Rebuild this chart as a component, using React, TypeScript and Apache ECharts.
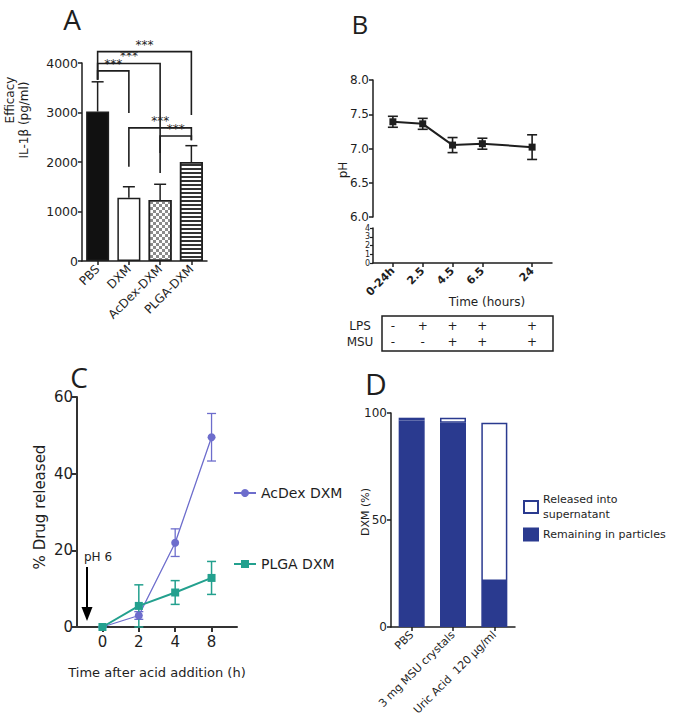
import React, { useEffect, useRef } from 'react';
import * as echarts from 'echarts';

const FONT = 'DejaVu Sans';
const INK = '#1e1e1e';

// ---------- Panel A ----------
const aCategories = ['PBS', 'DXM', 'AcDex-DXM', 'PLGA-DXM'];
const aValues = [3020, 1280, 1230, 2000];
const aErrors = [600, 220, 320, 330];
const bracketFrom = [0, 0, 0, 1, 2];
const bracketTo = [3, 2, 1, 3, 3];
const bracketLevel = [4230, 3990, 3840, 2690, 2525];
const bracketLegFrom = [3660, 3660, 3660, 1905, 1780];
const bracketLegTo = [2950, 2180, 2990, 2440, 2440];
const bracketLabel = ['***', '***', '***', '***', '***'];

// ---------- Panel B ----------
const bTimeLabels = ['0-24h', '2.5', '4.5', '6.5', '24'];
const bTimeSlots = [0, 3, 6, 9, 14];
const bPH = [7.39, 7.36, 7.05, 7.07, 7.02];
const bPHErr = [0.08, 0.08, 0.11, 0.08, 0.18];
const bLPS = ['-', '+', '+', '+', '+'];
const bMSU = ['-', '-', '+', '+', '+'];

// ---------- Panel C ----------
const cTimeLabels = ['0', '2', '4', '8'];
const cTimeSlots = [0, 1, 2, 3];
const cAcDex = [0, 3, 22, 49.5];
const cAcDexErr = [0, 1, 3.6, 6.2];
const cPLGA = [0, 5.5, 9, 12.8];
const cPLGAErr = [0, 5.5, 3.1, 4.3];

// ---------- Panel D ----------
const dCategories = ['PBS', '3 mg MSU crystals', 'Uric Acid  120 µg/ml'];
const dRemaining = [96.5, 95.5, 21.5];
const dReleased = [1.3, 2.3, 74];

const PURPLE = '#6d6dcc';
const TEAL = '#23a08e';
const NAVY = '#2a3a8f';

function errRender(color: string, cap: number, both: boolean, width: number) {
  return (params: any, api: any) => {
    const x = api.value(0);
    const lo = api.value(1);
    const hi = api.value(2);
    const pl = api.coord([x, lo]);
    const ph = api.coord([x, hi]);
    const st = { stroke: color, lineWidth: width };
    const ch: any[] = [
      { type: 'line', shape: { x1: pl[0], y1: pl[1], x2: ph[0], y2: ph[1] }, style: st },
      { type: 'line', shape: { x1: ph[0] - cap, y1: ph[1], x2: ph[0] + cap, y2: ph[1] }, style: st },
    ];
    if (both) ch.push({ type: 'line', shape: { x1: pl[0] - cap, y1: pl[1], x2: pl[0] + cap, y2: pl[1] }, style: st });
    return { type: 'group', children: ch };
  };
}

function axisBase(fs: number, extra: any = {}) {
  return {
    axisLine: { show: true, onZero: false, lineStyle: { color: INK, width: 1.5 } },
    axisTick: { show: true, length: 4, lineStyle: { color: INK, width: 1.5 } },
    splitLine: { show: false },
    axisLabel: { color: INK, fontFamily: FONT, fontSize: fs, margin: 5 },
    ...extra,
  };
}

function txt(text: string, x: number, y: number, fs: number, opts: any = {}) {
  return {
    type: 'text',
    x,
    y,
    rotation: opts.rot || 0,
    silent: true,
    z: 10,
    style: {
      text,
      fontSize: fs,
      fontFamily: opts.font || FONT,
      fontWeight: opts.weight || 'normal',
      fill: INK,
      align: opts.align || 'center',
      verticalAlign: opts.va || 'middle',
    },
  };
}

export default function App() {
  const ref = useRef<HTMLDivElement>(null);

  useEffect(() => {
    if (!ref.current) return;
    const chart = echarts.init(ref.current, null, { renderer: 'svg' });

    const aStyles: any[] = [
      { color: '#111', borderColor: INK, borderWidth: 1.5 },
      { color: '#fff', borderColor: INK, borderWidth: 1.5 },
      {
        color: '#fff', borderColor: INK, borderWidth: 1.5,
        decal: { symbol: 'rect', symbolSize: 1, dashArrayX: [[3, 3], [0, 3, 3, 0]], dashArrayY: [3, 0], color: '#8c8c8c' },
      },
      {
        color: '#fff', borderColor: INK, borderWidth: 1.5,
        decal: { symbol: 'rect', symbolSize: 1, dashArrayX: [1, 0], dashArrayY: [1.6, 1.6], color: '#333' },
      },
    ];

    const bLabelOf = (v: number) => {
      const i = bTimeSlots.indexOf(Math.round(v));
      return i >= 0 ? bTimeLabels[i] : '';
    };
    const cLabelOf = (v: number) => {
      const i = cTimeSlots.indexOf(Math.round(v));
      return i >= 0 ? cTimeLabels[i] : '';
    };
    const plain = (v: number) => String(v);

    const staticGraphics: any[] = [
      txt('A', 72, 19, 28, { font: 'Open Sans' }),
      txt('B', 360, 24, 26, { font: 'Open Sans' }),
      txt('C', 79, 377, 28, { font: 'Open Sans' }),
      txt('D', 376, 383, 30, { font: 'Open Sans' }),
      txt('Efficacy', 10, 100, 12, { rot: Math.PI / 2 }),
      txt('IL-1β (pg/ml)', 24, 120, 12, { rot: Math.PI / 2 }),
      txt('pH', 343, 170, 12, { rot: Math.PI / 2 }),
      txt('Time (hours)', 487, 302, 12),
      {
        type: 'rect', silent: true,
        shape: { x: 382, y: 316, width: 171, height: 35 },
        style: { fill: 'none', stroke: INK, lineWidth: 1.5 },
      },
      txt('LPS', 360, 326, 12),
      txt('MSU', 360, 342, 12),
      txt('% Drug released', 40, 507, 15, { rot: Math.PI / 2 }),
      txt('pH 6', 98, 557, 12),
      {
        type: 'line', silent: true,
        shape: { x1: 87, y1: 567, x2: 87, y2: 612 },
        style: { stroke: '#000', lineWidth: 2 },
      },
      {
        type: 'polygon', silent: true,
        shape: { points: [[81.5, 607], [92.5, 607], [87, 621]] },
        style: { fill: '#000' },
      },
      txt('Time after acid addition (h)', 157, 672, 13),
      txt('DXM (%)', 365, 512, 11, { rot: Math.PI / 2 }),
    ];

    const option: any = {
      animation: false,
      backgroundColor: '#ffffff',
      textStyle: { fontFamily: FONT },
      grid: [
        { left: 82, top: 63, width: 125, height: 198, outerBoundsMode: 'none', containLabel: false },
        { left: 373, top: 80, width: 179, height: 137, outerBoundsMode: 'none', containLabel: false },
        { left: 373, top: 228, width: 179, height: 35, outerBoundsMode: 'none', containLabel: false },
        { left: 77, top: 397, width: 160, height: 230, outerBoundsMode: 'none', containLabel: false },
        { left: 391, top: 413, width: 124, height: 214, outerBoundsMode: 'none', containLabel: false },
      ],
      xAxis: [
        {
          gridIndex: 0, type: 'category', data: aCategories,
          ...axisBase(12),
          axisTick: { show: true, alignWithLabel: true, length: 4, lineStyle: { color: INK, width: 1.5 } },
          axisLabel: { color: INK, fontFamily: FONT, fontSize: 12, rotate: 45, interval: 0, margin: 6 },
        },
        { gridIndex: 1, type: 'value', min: -2, max: 16, show: false },
        {
          gridIndex: 2, type: 'value', min: -2, max: 16,
          ...axisBase(11),
          axisTick: { show: true, length: 4, customValues: bTimeSlots, lineStyle: { color: INK, width: 1.5 } },
          axisLabel: {
            color: INK, fontFamily: FONT, fontSize: 11, fontWeight: 'bold', rotate: 45, margin: 6,
            customValues: bTimeSlots, formatter: bLabelOf,
          },
        },
        {
          gridIndex: 3, type: 'value', min: -0.7, max: 3.7,
          ...axisBase(15),
          axisLine: { show: true, onZero: false, lineStyle: { color: '#333', width: 2 } },
          axisTick: { show: true, length: 5, customValues: cTimeSlots, lineStyle: { color: '#333', width: 2 } },
          axisLabel: { color: INK, fontFamily: FONT, fontSize: 15, margin: 7, customValues: cTimeSlots, formatter: cLabelOf },
        },
        {
          gridIndex: 4, type: 'category', data: dCategories,
          ...axisBase(11),
          axisTick: { show: true, alignWithLabel: true, length: 4, lineStyle: { color: INK, width: 1.5 } },
          axisLabel: { color: INK, fontFamily: FONT, fontSize: 11, rotate: 45, interval: 0, margin: 6 },
        },
      ],
      yAxis: [
        {
          gridIndex: 0, type: 'value', min: 0, max: 4000, interval: 1000, ...axisBase(12),
          axisLabel: { color: INK, fontFamily: FONT, fontSize: 12.5, margin: 4, formatter: plain },
        },
        {
          gridIndex: 1, type: 'value', min: 6, max: 8, interval: 0.5, ...axisBase(12),
          axisLabel: { color: INK, fontFamily: FONT, fontSize: 12, margin: 4, formatter: (v: number) => v.toFixed(1) },
        },
        {
          gridIndex: 2, type: 'value', min: 0, max: 4, interval: 1, ...axisBase(8),
          axisTick: { show: true, length: 3, lineStyle: { color: INK, width: 1.2 } },
          axisLabel: { color: INK, fontFamily: FONT, fontSize: 8, margin: 3 },
        },
        {
          gridIndex: 3, type: 'value', min: 0, max: 60, interval: 20, ...axisBase(15),
          axisLine: { show: true, onZero: false, lineStyle: { color: '#333', width: 2 } },
          axisTick: { show: true, length: 5, lineStyle: { color: '#333', width: 2 } },
          axisLabel: { color: INK, fontFamily: FONT, fontSize: 15, margin: 4, formatter: plain },
        },
        {
          gridIndex: 4, type: 'value', min: 0, max: 100, interval: 50, ...axisBase(12),
          axisLabel: { color: INK, fontFamily: FONT, fontSize: 12, margin: 4, formatter: plain },
        },
      ],
      legend: [
        {
          data: ['AcDex DXM', 'PLGA DXM'], orient: 'vertical', left: 228, top: 481, itemGap: 57,
          itemWidth: 22, itemHeight: 10,
          textStyle: { fontFamily: FONT, fontSize: 14, color: INK },
        },
        {
          data: ['Released into supernatant', 'Remaining in particles'], orient: 'vertical', left: 518, top: 487,
          itemGap: 5, itemWidth: 14, itemHeight: 12, icon: 'rect',
          formatter: (n: string) => (n === 'Released into supernatant' ? 'Released into\nsupernatant' : n),
          textStyle: { fontFamily: FONT, fontSize: 11, color: INK, lineHeight: 15 },
        },
      ],
      series: [
        // ----- Panel A -----
        {
          type: 'bar', xAxisIndex: 0, yAxisIndex: 0, barWidth: 23,
          data: aValues.map((v, i) => ({ value: v, itemStyle: aStyles[i] })),
        },
        {
          type: 'custom', xAxisIndex: 0, yAxisIndex: 0, silent: true, clip: false,
          renderItem: errRender(INK, 6, false, 1.5),
          data: aValues.map((v, i) => [i, v, v + aErrors[i]]),
        },
        {
          type: 'custom', xAxisIndex: 0, yAxisIndex: 0, silent: true, clip: false,
          renderItem: (params: any, api: any) => {
            const i = params.dataIndex;
            const a = api.coord([bracketFrom[i], bracketLevel[i]]);
            const b = api.coord([bracketTo[i], bracketLevel[i]]);
            const la = api.coord([bracketFrom[i], bracketLegFrom[i]]);
            const lb = api.coord([bracketTo[i], bracketLegTo[i]]);
            return {
              type: 'polyline',
              shape: { points: [[a[0], la[1]], [a[0], a[1]], [b[0], b[1]], [b[0], lb[1]]] },
              style: { stroke: INK, lineWidth: 1.6, fill: 'none' },
            };
          },
          data: bracketFrom.map((f, i) => [f, bracketLevel[i]]),
        },
        // ----- Panel B -----
        {
          type: 'custom', xAxisIndex: 1, yAxisIndex: 1, silent: true, clip: false,
          renderItem: errRender(INK, 5, true, 1.6),
          data: bPH.map((v, i) => [bTimeSlots[i], v - bPHErr[i], v + bPHErr[i]]),
        },
        {
          type: 'line', xAxisIndex: 1, yAxisIndex: 1, symbol: 'rect', symbolSize: 7,
          lineStyle: { color: INK, width: 2 }, itemStyle: { color: INK },
          data: bPH.map((v, i) => [bTimeSlots[i], v]),
        },
        // ----- Panel C -----
        {
          type: 'custom', xAxisIndex: 3, yAxisIndex: 3, silent: true, clip: false,
          renderItem: errRender(PURPLE, 4.5, true, 1.3),
          data: cAcDex.map((v, i) => [cTimeSlots[i], v - cAcDexErr[i], v + cAcDexErr[i]]),
        },
        {
          type: 'custom', xAxisIndex: 3, yAxisIndex: 3, silent: true, clip: false,
          renderItem: errRender(TEAL, 4.5, true, 1.5),
          data: cPLGA.map((v, i) => [cTimeSlots[i], v - cPLGAErr[i], v + cPLGAErr[i]]),
        },
        {
          name: 'AcDex DXM', type: 'line', xAxisIndex: 3, yAxisIndex: 3, symbol: 'circle', symbolSize: 8,
          lineStyle: { color: PURPLE, width: 1.3 }, itemStyle: { color: PURPLE },
          data: cAcDex.map((v, i) => [cTimeSlots[i], v]),
        },
        {
          name: 'PLGA DXM', type: 'line', xAxisIndex: 3, yAxisIndex: 3, symbol: 'rect', symbolSize: 8,
          lineStyle: { color: TEAL, width: 2 }, itemStyle: { color: TEAL },
          data: cPLGA.map((v, i) => [cTimeSlots[i], v]),
        },
        // ----- Panel D -----
        {
          name: 'Remaining in particles', type: 'bar', xAxisIndex: 4, yAxisIndex: 4, stack: 'd', barWidth: 26,
          itemStyle: { color: NAVY, borderColor: NAVY, borderWidth: 1.5 },
          data: dRemaining,
        },
        {
          name: 'Released into supernatant', type: 'bar', xAxisIndex: 4, yAxisIndex: 4, stack: 'd', barWidth: 26,
          itemStyle: { color: '#ffffff', borderColor: NAVY, borderWidth: 1.5 },
          data: dReleased,
        },
      ],
      graphic: staticGraphics,
    };

    chart.setOption(option);

    // Annotation texts placed through the axes' own scales
    const extra: any[] = [];
    bracketLabel.forEach((lab, i) => {
      const a = chart.convertToPixel({ gridIndex: 0 }, [aCategories[bracketFrom[i]], bracketLevel[i]]) as number[];
      const b = chart.convertToPixel({ gridIndex: 0 }, [aCategories[bracketTo[i]], bracketLevel[i]]) as number[];
      if (a && b) extra.push(txt(lab, (a[0] + b[0]) / 2, a[1] - 1, 12, { va: 'bottom' }));
    });
    bTimeSlots.forEach((s, i) => {
      const p = chart.convertToPixel({ gridIndex: 2 }, [s, 0]) as number[];
      if (p) {
        extra.push(txt(bLPS[i], p[0], p[1] + 63, 12));
        extra.push(txt(bMSU[i], p[0], p[1] + 79, 12));
      }
    });
    chart.setOption({ graphic: [...staticGraphics, ...extra] }, { replaceMerge: ['graphic'] });

    return () => chart.dispose();
  }, []);

  return (
    <div
      ref={ref}
      style={{ position: 'fixed', left: 0, top: 0, width: 675, height: 725, background: '#fff' }}
    />
  );
}
